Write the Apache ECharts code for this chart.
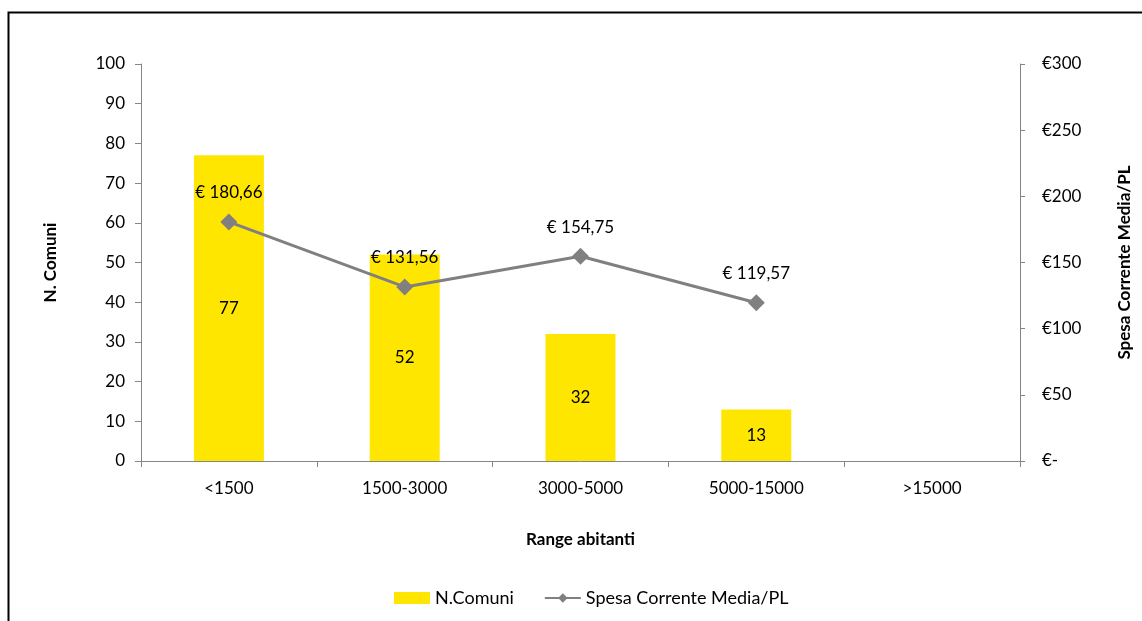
<!DOCTYPE html>
<html>
<head>
<meta charset="utf-8">
<script src="https://cdn.jsdelivr.net/npm/echarts@6/dist/echarts.min.js"></script>
<style>
html,body{margin:0;padding:0;background:#fff;}
#chart{width:1142px;height:621px;}
</style>
</head>
<body>
<div id="chart"></div>
<script>
const categories = ['<1500', '1500-3000', '3000-5000', '5000-15000', '>15000'];
const nComuni = [77, 52, 32, 13, null];
const spesaMedia = [180.66, 131.56, 154.75, 119.57, null];
const leftTicks = { min: 0, max: 100, interval: 10 };
const rightTicks = { min: 0, max: 300, interval: 50 };

const FONT = 'Lato, "Liberation Sans", sans-serif';
const FS = 17;
const chart = echarts.init(document.getElementById('chart'));
chart.setOption({
  animation: false,
  textStyle: { fontFamily: FONT },
  graphic: [{
    type: 'rect',
    shape: { x: 8.5, y: 12.5, width: 1300, height: 800 },
    style: { fill: 'none', stroke: '#000', lineWidth: 2 },
    silent: true
  }],
  grid: { left: 141, right: 122, top: 64, bottom: 160 },
  legend: {
    bottom: 9,
    left: 389,
    itemGap: 30,
    itemWidth: 36,
    itemHeight: 12,
    textStyle: { fontFamily: FONT, fontSize: 18, color: '#000' },
    data: [
      { name: 'N.Comuni', icon: 'rect' },
      { name: 'Spesa Corrente Media/PL' }
    ]
  },
  xAxis: {
    type: 'category',
    data: categories,
    name: 'Range abitanti',
    nameLocation: 'middle',
    nameGap: 70,
    nameTextStyle: { fontFamily: FONT, fontSize: FS, fontWeight: 'bold', color: '#000' },
    axisLine: { lineStyle: { color: '#868686', width: 1 } },
    axisTick: { show: true, length: 6, lineStyle: { color: '#868686' } },
    axisLabel: { fontFamily: FONT, fontSize: FS, color: '#000', margin: 19 }
  },
  yAxis: [{
    type: 'value',
    min: leftTicks.min, max: leftTicks.max, interval: leftTicks.interval,
    name: 'N. Comuni',
    nameLocation: 'middle',
    nameGap: 82,
    nameRotate: 90,
    nameTextStyle: { fontFamily: FONT, fontSize: FS, fontWeight: 'bold', color: '#000' },
    axisLine: { show: true, lineStyle: { color: '#868686', width: 1 } },
    axisTick: { show: true, length: 6, lineStyle: { color: '#868686' } },
    axisLabel: { fontFamily: FONT, fontSize: FS, color: '#000', margin: 16 },
    splitLine: { show: false }
  }, {
    type: 'value',
    position: 'right',
    min: rightTicks.min, max: rightTicks.max, interval: rightTicks.interval,
    name: 'Spesa Corrente Media/PL',
    nameLocation: 'middle',
    nameGap: 96,
    nameRotate: 90,
    nameTextStyle: { fontFamily: FONT, fontSize: FS, fontWeight: 'bold', color: '#000' },
    axisLine: { show: true, lineStyle: { color: '#868686', width: 1 } },
    axisTick: { show: true, length: 5, lineStyle: { color: '#868686' } },
    axisLabel: {
      fontFamily: FONT, fontSize: FS, color: '#000', margin: 22,
      formatter: v => v === 0 ? '€-' : '€' + v
    },
    splitLine: { show: false }
  }],
  series: [{
    name: 'N.Comuni',
    type: 'bar',
    data: nComuni,
    barWidth: 70,
    itemStyle: { color: '#FFE600' },
    label: {
      show: true, position: 'inside', color: '#000',
      fontFamily: FONT, fontSize: FS
    }
  }, {
    name: 'Spesa Corrente Media/PL',
    type: 'line',
    yAxisIndex: 1,
    data: spesaMedia,
    symbol: 'diamond',
    symbolSize: 17,
    itemStyle: { color: '#808080' },
    lineStyle: { color: '#808080', width: 3 },
    label: {
      show: true, position: 'top', distance: 12, color: '#000',
      fontFamily: FONT, fontSize: FS,
      formatter: p => p.value == null ? '' : '€ ' + p.value.toFixed(2).replace('.', ',')
    }
  }]
});
</script>
</body>
</html>
